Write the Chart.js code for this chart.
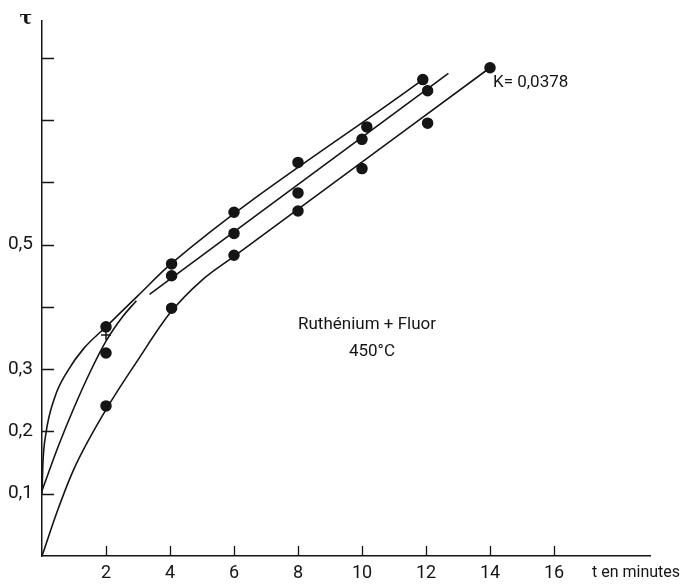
<!DOCTYPE html>
<html lang="fr">
<head>
<meta charset="UTF-8">
<title>Ruthénium + Fluor 450°C</title>
<script src="https://cdn.jsdelivr.net/npm/chart.js"></script>
<style>
  body { margin: 0; background: #fff; }
  #graphe { display: block; }
</style>
</head>
<body>
<canvas id="graphe" width="696" height="586"></canvas>
<script>
const tA   = [2.0, 4.05, 6.0, 8.0, 10.15, 11.9];
const tauA = [0.368, 0.469, 0.552, 0.632, 0.689, 0.765];

const tB   = [2.0, 4.05, 6.0, 8.0, 10.0, 12.05];
const tauB = [0.355, 0.450, 0.518, 0.583, 0.669, 0.747];

const tX   = [2.0];
const tauX = [0.326];

const tC   = [2.0, 4.05, 6.0, 8.0, 10.0, 12.05, 14.0];
const tauC = [0.241, 0.398, 0.483, 0.554, 0.622, 0.695, 0.784];

// tracés (courbes + droites) estimés sur la figure
const courbeA_t   = [0, 0.03, 0.12, 0.4, 0.8, 1.3, 2.0, 3.0, 4.03, 11.9];
const courbeA_tau = [0.10, 0.15, 0.196, 0.255, 0.297, 0.333, 0.368, 0.418, 0.469, 0.765];

const courbeB_t   = [0, 0.5, 1.0, 1.5, 2.0, 2.5, 2.95];
const courbeB_tau = [0.105, 0.175, 0.238, 0.295, 0.345, 0.383, 0.41];
const droiteB_t   = [3.36, 12.7];
const droiteB_tau = [0.42, 0.775];

const courbeC_t   = [0, 0.5, 1.0, 2.0, 3.0, 4.0, 5.0, 6.0, 14.0];
const courbeC_tau = [0, 0.075, 0.14, 0.235, 0.315, 0.39, 0.443, 0.481, 0.784];

const etiquettesY = { 1: '0,1', 2: '0,2', 3: '0,3', 5: '0,5' };

const NOIR = '#151515';
const POLICE = 'Roboto, "Liberation Sans", sans-serif';

const pts = (xs, ys) => xs.map((x, i) => ({ x: x, y: ys[i] }));

function trace(xs, ys) {
  return {
    data: pts(xs, ys), showLine: true, pointRadius: 0,
    borderColor: NOIR, borderWidth: 1.6, cubicInterpolationMode: 'monotone'
  };
}
function points(xs, ys, style) {
  return {
    data: pts(xs, ys), showLine: false, pointStyle: style || 'circle',
    pointRadius: 5, backgroundColor: NOIR, borderColor: NOIR, borderWidth: 1.5
  };
}

// graduations vers l'intérieur + textes
const habillage = {
  id: 'habillage',
  afterDraw(chart) {
    const { ctx, scales: { x, y } } = chart;
    ctx.save();
    ctx.strokeStyle = NOIR;
    ctx.lineWidth = 1.3;
    ctx.beginPath();
    x.ticks.forEach(tk => {
      if (tk.value > 0 && tk.value <= 16) {
        const px = Math.round(x.getPixelForValue(tk.value)) + 0.5;
        ctx.moveTo(px, y.bottom);
        ctx.lineTo(px, y.bottom - 10);
      }
    });
    y.ticks.forEach(tk => {
      if (tk.value > 0.05 && tk.value < 0.85) {
        const py = Math.round(y.getPixelForValue(tk.value)) + 0.5;
        ctx.moveTo(x.left, py);
        ctx.lineTo(x.left + 12, py);
      }
    });
    ctx.stroke();

    ctx.fillStyle = NOIR;
    ctx.textBaseline = 'middle';
    ctx.font = '16px ' + POLICE;
    ctx.textAlign = 'left';
    ctx.fillText('t en minutes', 592, 573);
    ctx.font = '17px ' + POLICE;
    ctx.fillText('K= 0,0378', 493, 83);
    ctx.textAlign = 'center';
    ctx.fillText('Ruthénium + Fluor', 367, 325);
    ctx.fillText('450°C', 372, 352);
    ctx.font = 'bold 19px "DejaVu Serif", serif';
    ctx.fillText('τ', 26, 19);
    ctx.restore();
  }
};

new Chart(document.getElementById('graphe'), {
  type: 'scatter',
  data: {
    datasets: [
      trace(courbeA_t, courbeA_tau),
      trace(courbeB_t, courbeB_tau),
      trace(droiteB_t, droiteB_tau),
      trace(courbeC_t, courbeC_tau),
      points(tA, tauA),
      points(tB.slice(1), tauB.slice(1)),
      points(tB, tauB, 'cross'),
      points(tX, tauX),
      points(tC, tauC)
    ]
  },
  options: {
    responsive: false,
    animation: false,
    layout: { padding: { top: 5, right: 46, left: 0, bottom: 0 } },
    plugins: { legend: { display: false }, tooltip: { enabled: false } },
    scales: {
      x: {
        type: 'linear', min: 0, max: 19,
        grid: { display: false, drawTicks: false },
        border: { color: NOIR, width: 1.5 },
        ticks: {
          stepSize: 2, padding: 7, color: NOIR, maxRotation: 0,
          font: { family: POLICE, size: 18 },
          callback: v => (v > 0 && v <= 16) ? String(v) : ''
        },
        afterFit: s => { s.height = 30; }
      },
      y: {
        type: 'linear', min: 0, max: 0.86,
        grid: { display: false, drawTicks: false },
        border: { color: NOIR, width: 1.5 },
        ticks: {
          stepSize: 0.1, padding: 9, color: NOIR,
          font: { family: POLICE, size: 19 },
          callback: v => etiquettesY[Math.round(v * 10)] || ''
        },
        afterFit: s => { s.width = 42; }
      }
    }
  },
  plugins: [habillage]
});
</script>
</body>
</html>
